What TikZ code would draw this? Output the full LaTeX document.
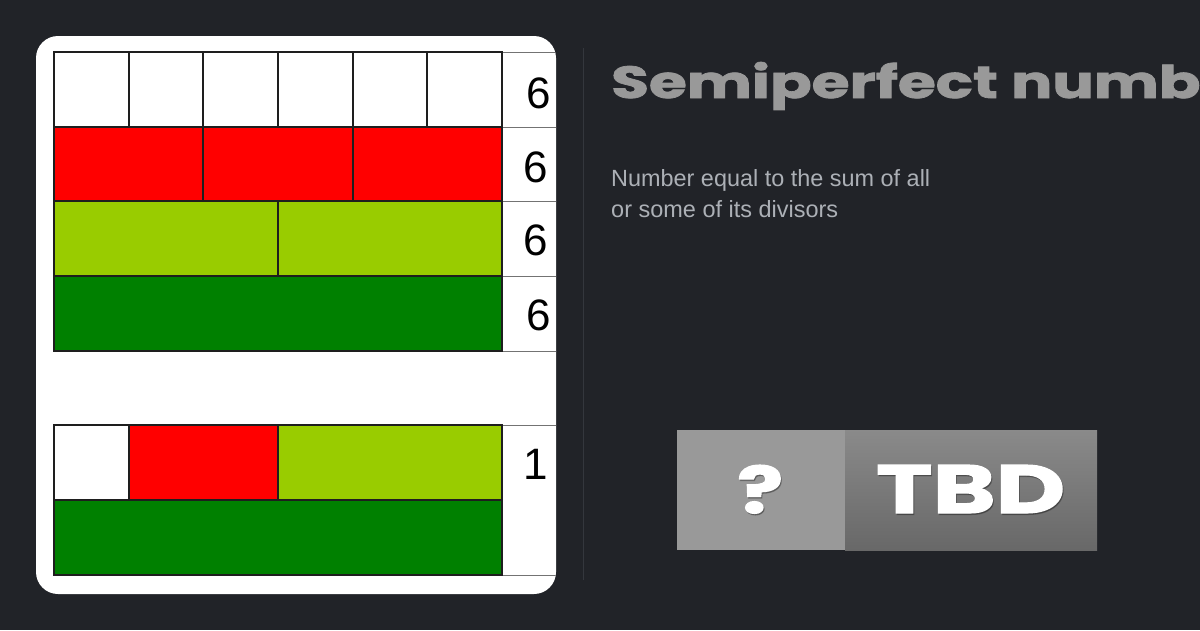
\documentclass[tikz,border=0pt]{standalone}
\usepackage{fontspec}
\setmainfont{Liberation Sans}
\newfontfamily\titlefont{Poppins}[BoldFeatures={FakeBold=1.6}]
\definecolor{bgc}{RGB}{33,35,40}
\definecolor{divc}{RGB}{52,55,61}
\definecolor{titlec}{RGB}{153,153,153}
\definecolor{subc}{RGB}{172,176,182}
\definecolor{redc}{RGB}{255,0,0}
\definecolor{ygc}{RGB}{153,204,0}
\definecolor{grc}{RGB}{0,128,0}
\definecolor{edgec}{RGB}{30,30,30}
\definecolor{badgeL}{RGB}{153,153,153}
\definecolor{badgeT}{RGB}{138,138,138}
\definecolor{badgeB}{RGB}{104,104,104}
\tikzset{
  cell/.style={draw=edgec, line width=2.2pt},
  sepline/.style={draw=black!55, line width=1pt},
  numlbl/.style={font=\fontsize{44}{44}\selectfont, text=black, inner sep=0pt, anchor=center},
  shadowtxt/.style={text=black, opacity=0.25, inner sep=0pt, anchor=base west},
  whitetxt/.style={text=white, inner sep=0pt, anchor=base west}
}
\begin{document}
\begin{tikzpicture}[x=1pt,y=-1pt]
\useasboundingbox (0,0) rectangle (1200,630);
\fill[bgc] (0,0) rectangle (1200,630);
% card
\fill[white, rounded corners=22pt] (36,36) rectangle (556,594);
% divider
\draw[divc, line width=1pt] (583,48) -- (583,580);
% label column lines (clipped to card)
\begin{scope}
\clip[rounded corners=22pt] (36,36) rectangle (556,594);
\foreach \yy in {52,127,201,276,351,425,575}
  \draw[sepline] (502,\yy) -- (560,\yy);
\end{scope}
% first table
\foreach \i in {0,...,5}
  \draw[cell, fill=white] ({54+\i*74.67},52) rectangle ({54+(\i+1)*74.67},127);
\foreach \i in {0,1,2}
  \draw[cell, fill=redc] ({54+\i*149.33},127) rectangle ({54+(\i+1)*149.33},201);
\foreach \i in {0,1}
  \draw[cell, fill=ygc] ({54+\i*224},201) rectangle ({54+(\i+1)*224},276);
\draw[cell, fill=grc] (54,276) rectangle (502,351);
% second table
\draw[cell, fill=white] (54,425) rectangle (128.67,500);
\draw[cell, fill=redc] (128.67,425) rectangle (278,500);
\draw[cell, fill=ygc] (278,425) rectangle (502,500);
\draw[cell, fill=grc] (54,500) rectangle (502,575);
% labels
\node[numlbl] (l1) at (539,93) {6};
\node[numlbl] (l2) at (536,167) {6};
\node[numlbl] (l3) at (536,240) {6};
\node[numlbl] (l4) at (539,315) {6};
\node[numlbl] (l5) at (536,464) {1};
% title
\node[inner sep=0pt, anchor=base west, text=titlec] (title) at (611,98)
  {\resizebox{589pt}{36pt}{\titlefont\bfseries Semiperfect numb}};
% subtitle
\node[inner sep=0pt, anchor=base west, text=subc, font=\fontsize{20}{20}\selectfont] (sub1) at (611,186)
  {\resizebox{319pt}{!}{Number equal to the sum of all}};
\node[inner sep=0pt, anchor=base west, text=subc, font=\fontsize{20}{20}\selectfont] (sub2) at (611,217)
  {\resizebox{227pt}{!}{or some of its divisors}};
% badge
\fill[badgeL] (677,430) rectangle (845,550);
\shade[top color=badgeT, bottom color=badgeB] (845,430) rectangle (1097,550);
\node[shadowtxt] (qs) at (738,514.5) {\resizebox{46pt}{48pt}{\titlefont\bfseries ?}};
\node[whitetxt] (q) at (737,513) {\resizebox{46pt}{48pt}{\titlefont\bfseries ?}};
\node[shadowtxt] (ts) at (877,514.5) {\resizebox{189pt}{48pt}{\titlefont\bfseries TBD}};
\node[whitetxt] (tbd) at (876,513) {\resizebox{189pt}{48pt}{\titlefont\bfseries TBD}};
\end{tikzpicture}
\end{document}
